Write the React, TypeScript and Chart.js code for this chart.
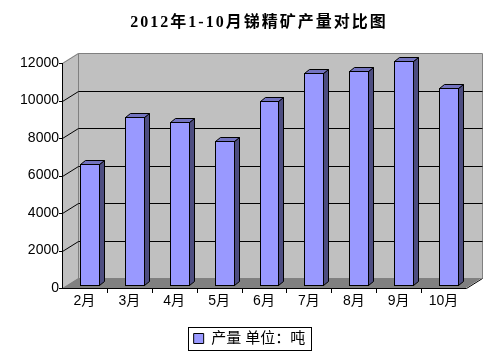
import { useEffect, useRef } from 'react';
import { Chart, registerables } from 'chart.js';

Chart.register(...registerables);

const titleText = '2012年1-10月锑精矿产量对比图';
const categories = ['2月', '3月', '4月', '5月', '6月', '7月', '8月', '9月', '10月'];
const production = [6450, 8960, 8700, 7680, 9810, 11300, 11410, 11950, 10500];
const yTicks = [0, 2000, 4000, 6000, 8000, 10000, 12000];
const seriesLabel = '产量 单位：吨';

const SANS = '"Liberation Sans", "Noto Sans CJK SC", sans-serif';
const SERIF = '"Liberation Serif", "Noto Sans CJK SC", serif';

// depth offsets
const WDX = 16, WDY = -10; // back wall
const BF_DX = 5, BF_DY = -3; // bar front face
const BD_DX = 5, BD_DY = -4; // bar depth

function poly(ctx: CanvasRenderingContext2D, pts: number[][]) {
  ctx.beginPath();
  ctx.moveTo(pts[0][0], pts[0][1]);
  for (let i = 1; i < pts.length; i++) ctx.lineTo(pts[i][0], pts[i][1]);
  ctx.closePath();
}

const threeD = {
  id: 'threeD',
  beforeDatasetsDraw(chart: any) {
    const { ctx, chartArea: a, scales } = chart;
    const ys = scales.y;
    const L = Math.round(a.left), R = Math.round(a.right);
    const T = Math.round(a.top), B = Math.round(a.bottom);
    ctx.save();
    ctx.lineWidth = 1;
    // left wall
    ctx.fillStyle = '#C0C0C0';
    poly(ctx, [[L, T], [L + WDX, T + WDY], [L + WDX, B + WDY], [L, B]]);
    ctx.fill();
    // back wall
    ctx.fillRect(L + WDX, T + WDY, R - L, B - T);
    // floor
    ctx.fillStyle = '#808080';
    poly(ctx, [[L, B], [R, B], [R + WDX, B + WDY], [L + WDX, B + WDY]]);
    ctx.fill();
    // wall borders (gray)
    ctx.strokeStyle = '#808080';
    ctx.beginPath();
    ctx.moveTo(L + 0.5, T + 0.5);
    ctx.lineTo(L + WDX + 0.5, T + WDY + 0.5);
    ctx.lineTo(R + WDX + 0.5, T + WDY + 0.5);
    ctx.lineTo(R + WDX + 0.5, B + WDY + 0.5);
    ctx.moveTo(L + WDX + 0.5, T + WDY + 0.5);
    ctx.lineTo(L + WDX + 0.5, B + WDY + 0.5);
    ctx.stroke();
    // gridlines
    ctx.strokeStyle = '#000000';
    ctx.beginPath();
    yTicks.forEach((v) => {
      if (v === yTicks[0] || v === yTicks[yTicks.length - 1]) return;
      const py = Math.round(ys.getPixelForValue(v));
      ctx.moveTo(L + 0.5, py + 0.5);
      ctx.lineTo(L + WDX + 0.5, py + WDY + 0.5);
      ctx.lineTo(R + WDX + 0.5, py + WDY + 0.5);
    });
    ctx.stroke();
    // front axis + ticks
    ctx.beginPath();
    ctx.moveTo(L + 0.5, T);
    ctx.lineTo(L + 0.5, B + 1);
    yTicks.forEach((v) => {
      const py = Math.round(ys.getPixelForValue(v));
      ctx.moveTo(L - 3, py + 0.5);
      ctx.lineTo(L + 1, py + 0.5);
    });
    // floor front edge
    ctx.moveTo(L, B + 0.5);
    ctx.lineTo(R + 0.5, B + 0.5);
    ctx.lineTo(R + WDX + 0.5, B + WDY + 0.5);
    // x tick marks
    const n = categories.length;
    for (let i = 1; i < n; i++) {
      const xb = Math.round(L + ((R - L) * i) / n) + 0.5;
      ctx.moveTo(xb, B + 1);
      ctx.lineTo(xb, B + 5);
    }
    ctx.stroke();

    // bars
    const meta = chart.getDatasetMeta(0);
    meta.data.forEach((el: any) => {
      const p = el.getProps(['x', 'y', 'base', 'width'], true);
      const x0 = Math.round(p.x - p.width / 2) + BF_DX + 0.5;
      const x1 = Math.round(p.x + p.width / 2) + BF_DX + 0.5;
      const yT = Math.round(p.y) + BF_DY + 0.5;
      const yB = Math.round(p.base) + BF_DY + 0.5;
      ctx.strokeStyle = '#000000';
      // side
      ctx.fillStyle = '#4D4D80';
      poly(ctx, [[x1, yT], [x1 + BD_DX, yT + BD_DY], [x1 + BD_DX, yB + BD_DY], [x1, yB]]);
      ctx.fill();
      ctx.stroke();
      // top
      ctx.fillStyle = '#7373BF';
      poly(ctx, [[x0, yT], [x1, yT], [x1 + BD_DX, yT + BD_DY], [x0 + BD_DX, yT + BD_DY]]);
      ctx.fill();
      ctx.stroke();
      // front
      ctx.fillStyle = '#9999FF';
      ctx.fillRect(x0, yT, x1 - x0, yB - yT);
      ctx.strokeRect(x0, yT, x1 - x0, yB - yT);
    });
    ctx.restore();
    return false;
  },
  afterDraw(chart: any) {
    const { ctx } = chart;
    ctx.save();
    // title
    ctx.font = 'bold 16px ' + SERIF;
    (ctx as any).letterSpacing = '2px';
    ctx.fillStyle = '#000000';
    ctx.textAlign = 'center';
    ctx.textBaseline = 'middle';
    ctx.fillText(titleText, 259, 23);
    (ctx as any).letterSpacing = '0px';
    // legend border
    const lg = chart.legend;
    if (lg && lg.legendHitBoxes && lg.legendHitBoxes.length) {
      const hb = lg.legendHitBoxes[0];
      const left = Math.round(hb.left) - 6;
      const right = Math.round(hb.left + hb.width) + 6;
      const top = Math.round(hb.top) - 4;
      const bottom = Math.round(hb.top + hb.height) + 4;
      ctx.strokeStyle = '#000000';
      ctx.lineWidth = 1;
      ctx.strokeRect(left + 0.5, top + 0.5, right - left, bottom - top);
    }
    ctx.restore();
  },
};

export default function App() {
  const ref = useRef<HTMLCanvasElement | null>(null);
  useEffect(() => {
    if (!ref.current) return;
    const chart = new Chart(ref.current, {
      type: 'bar',
      data: {
        labels: categories,
        datasets: [
          {
            label: seriesLabel,
            data: production,
            backgroundColor: '#9999FF',
            borderColor: '#000000',
            borderWidth: 1,
            categoryPercentage: 1,
            barPercentage: 0.42,
          },
        ],
      },
      options: {
        animation: false,
        responsive: false,
        devicePixelRatio: 1,
        layout: { padding: { top: 63, bottom: 1, left: 0, right: 0 } },
        plugins: {
          title: { display: false },
          tooltip: { enabled: false },
          legend: {
            display: true,
            position: 'bottom',
            labels: {
              boxWidth: 10,
              boxHeight: 10,
              padding: 19,
              color: '#000000',
              font: { size: 15, family: SANS },
            },
          },
        },
        scales: {
          x: {
            grid: { display: false, drawTicks: false },
            border: { display: false },
            ticks: { color: '#000000', font: { size: 14, family: SANS }, padding: 5, maxRotation: 0 },
            afterFit(s: any) {
              s.height = 24;
            },
          },
          y: {
            position: 'left',
            min: 0,
            max: 12000,
            grid: { display: false, drawTicks: false },
            border: { display: false },
            ticks: {
              color: '#000000',
              font: { size: 14, family: SANS },
              padding: 3,
              callback: (v: any) => String(v),
            },
            afterBuildTicks(s: any) {
              s.ticks = yTicks.map((v) => ({ value: v }));
            },
            afterFit(s: any) {
              s.width = 62;
            },
          },
          yRight: {
            type: 'linear',
            position: 'right',
            display: true,
            grid: { display: false, drawTicks: false },
            border: { display: false },
            ticks: { display: false },
            afterFit(s: any) {
              s.width = 33;
            },
          },
        },
      } as any,
      plugins: [threeD],
    });
    return () => chart.destroy();
  }, []);
  return (
    <div style={{ position: 'fixed', left: 0, top: 0, width: 499, height: 357, background: '#ffffff' }}>
      <canvas ref={ref} width={499} height={357} style={{ width: 499, height: 357, display: 'block' }} />
    </div>
  );
}
